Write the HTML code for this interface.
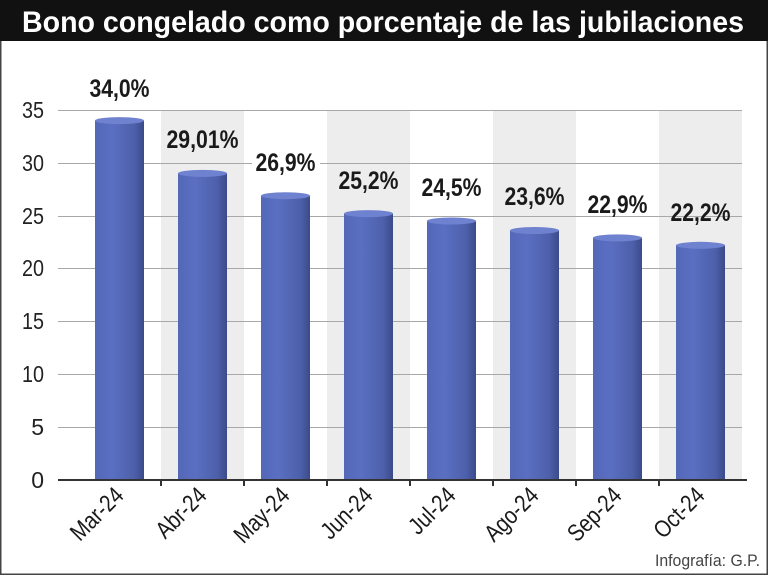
<!DOCTYPE html>
<html><head><meta charset="utf-8"><style>
html,body{margin:0;padding:0;background:#fff}
svg{display:block}
</style></head><body>
<svg width="768" height="575" viewBox="0 0 768 575" xmlns="http://www.w3.org/2000/svg">
<defs>
<linearGradient id="bg" x1="0" x2="1" y1="0" y2="0">
<stop offset="0" stop-color="#5468b8"/>
<stop offset="0.35" stop-color="#5a6fc2"/>
<stop offset="0.8" stop-color="#4d60aa"/>
<stop offset="1" stop-color="#3b4a8a"/>
</linearGradient>
</defs>
<rect x="0" y="0" width="768" height="575" fill="#fff"/>
<rect x="0.75" y="0.75" width="766.5" height="573.5" fill="none" stroke="#444" stroke-width="1.5"/>
<rect x="0" y="0" width="768" height="41" fill="#111"/>
<text x="22" y="32" font-family="Liberation Sans Narrow, Liberation Sans, sans-serif" font-weight="bold" font-size="30" fill="#fff" textLength="722" lengthAdjust="spacingAndGlyphs">Bono congelado como porcentaje de las jubilaciones</text>
<g fill="#ededed">
<rect x="161" y="110" width="83" height="370"/>
<rect x="327" y="110" width="83" height="370"/>
<rect x="493" y="110" width="83" height="370"/>
<rect x="659" y="110" width="83" height="370"/>
</g>
<g stroke="#a8a8a8" stroke-width="1">
<line x1="58" x2="742" y1="110.5" y2="110.5"/>
<line x1="58" x2="742" y1="163.5" y2="163.5"/>
<line x1="58" x2="742" y1="216.5" y2="216.5"/>
<line x1="58" x2="742" y1="268.5" y2="268.5"/>
<line x1="58" x2="742" y1="321.5" y2="321.5"/>
<line x1="58" x2="742" y1="374.5" y2="374.5"/>
<line x1="58" x2="742" y1="427.5" y2="427.5"/>
</g>
<g font-family="Liberation Sans Narrow, Liberation Sans, sans-serif" font-size="23" fill="#222" text-anchor="end">
<text x="44" y="118" textLength="22" lengthAdjust="spacingAndGlyphs">35</text>
<text x="44" y="171" textLength="22" lengthAdjust="spacingAndGlyphs">30</text>
<text x="44" y="224" textLength="22" lengthAdjust="spacingAndGlyphs">25</text>
<text x="44" y="276" textLength="22" lengthAdjust="spacingAndGlyphs">20</text>
<text x="44" y="329" textLength="22" lengthAdjust="spacingAndGlyphs">15</text>
<text x="44" y="382" textLength="22" lengthAdjust="spacingAndGlyphs">10</text>
<text x="44" y="435">5</text>
<text x="44" y="488">0</text>
</g>
<g fill="url(#bg)">
<rect x="95" y="120.6" width="49" height="359.4"/>
<rect x="178" y="173.4" width="49" height="306.6"/>
<rect x="261" y="195.7" width="49" height="284.3"/>
<rect x="344" y="213.6" width="49" height="266.4"/>
<rect x="427" y="221.0" width="49" height="259"/>
<rect x="510" y="230.5" width="49" height="249.5"/>
<rect x="593" y="237.9" width="49" height="242.1"/>
<rect x="676" y="245.3" width="49" height="234.7"/>
</g>
<g fill="#6f82d0">
<ellipse cx="119.5" cy="120.6" rx="24.5" ry="3.5"/>
<ellipse cx="202.5" cy="173.4" rx="24.5" ry="3.5"/>
<ellipse cx="285.5" cy="195.7" rx="24.5" ry="3.5"/>
<ellipse cx="368.5" cy="213.6" rx="24.5" ry="3.5"/>
<ellipse cx="451.5" cy="221.0" rx="24.5" ry="3.5"/>
<ellipse cx="534.5" cy="230.5" rx="24.5" ry="3.5"/>
<ellipse cx="617.5" cy="237.9" rx="24.5" ry="3.5"/>
<ellipse cx="700.5" cy="245.3" rx="24.5" ry="3.5"/>
</g>
<g font-family="Liberation Sans Narrow, Liberation Sans, sans-serif" font-weight="bold" font-size="25" fill="#1a1a1a" text-anchor="middle">
<rect x="86" y="76" width="68" height="24" fill="#fff"/>
<text x="119.5" y="97" textLength="60" lengthAdjust="spacingAndGlyphs">34,0%</text>
<rect x="164" y="126" width="80" height="24" fill="#ededed"/>
<text x="202.5" y="148" textLength="72" lengthAdjust="spacingAndGlyphs">29,01%</text>
<rect x="252" y="149" width="68" height="24" fill="#fff"/>
<text x="285.5" y="171" textLength="60" lengthAdjust="spacingAndGlyphs">26,9%</text>
<text x="368.5" y="189" textLength="60" lengthAdjust="spacingAndGlyphs">25,2%</text>
<rect x="418" y="174" width="68" height="24" fill="#fff"/>
<text x="451.5" y="196" textLength="60" lengthAdjust="spacingAndGlyphs">24,5%</text>
<text x="534.5" y="205" textLength="60" lengthAdjust="spacingAndGlyphs">23,6%</text>
<rect x="584" y="191" width="68" height="24" fill="#fff"/>
<text x="617.5" y="213" textLength="60" lengthAdjust="spacingAndGlyphs">22,9%</text>
<text x="700.5" y="221" textLength="60" lengthAdjust="spacingAndGlyphs">22,2%</text>
</g>
<g stroke="#333" stroke-width="2">
<line x1="58" x2="747" y1="480" y2="480"/>
<line x1="161" x2="161" y1="480" y2="486"/>
<line x1="244" x2="244" y1="480" y2="486"/>
<line x1="327" x2="327" y1="480" y2="486"/>
<line x1="410" x2="410" y1="480" y2="486"/>
<line x1="493" x2="493" y1="480" y2="486"/>
<line x1="576" x2="576" y1="480" y2="486"/>
<line x1="659" x2="659" y1="480" y2="486"/>
</g>
<g font-family="Liberation Sans Narrow, Liberation Sans, sans-serif" font-size="24" fill="#1a1a1a" text-anchor="end">
<text transform="translate(125,497) rotate(-45) scale(0.84,1)">Mar-24</text>
<text transform="translate(208,497) rotate(-45) scale(0.84,1)">Abr-24</text>
<text transform="translate(291,497) rotate(-45) scale(0.84,1)">May-24</text>
<text transform="translate(374,497) rotate(-45) scale(0.84,1)">Jun-24</text>
<text transform="translate(457,497) rotate(-45) scale(0.84,1)">Jul-24</text>
<text transform="translate(540,497) rotate(-45) scale(0.84,1)">Ago-24</text>
<text transform="translate(623,497) rotate(-45) scale(0.84,1)">Sep-24</text>
<text transform="translate(706,497) rotate(-45) scale(0.84,1)">Oct-24</text>
</g>
<text x="760" y="566" text-anchor="end" font-family="Liberation Sans Narrow, Liberation Sans, sans-serif" font-size="17" fill="#444" textLength="105" lengthAdjust="spacingAndGlyphs">Infografía: G.P.</text>
</svg>
</body></html>
